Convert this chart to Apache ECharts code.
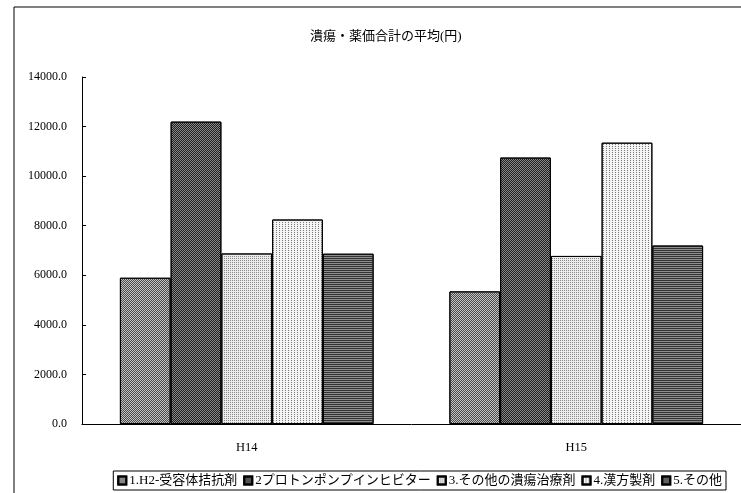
<!DOCTYPE html>
<html>
<head>
<meta charset="utf-8">
<script src="https://cdn.jsdelivr.net/npm/echarts@6/dist/echarts.min.js"></script>
<style>
  html, body { margin: 0; padding: 0; background: #fff; }
  #chart { width: 741px; height: 493px; }
</style>
</head>
<body>
<div id="chart"></div>
<script>
var years = ['H14', 'H15'];
var seriesNames = ['1.H2-受容体拮抗剤', '2プロトンポンプインヒビター', '3.その他の潰瘍治療剤', '4.漢方製剤', '5.その他'];
var h2Blocker = [5900, 5350];
var ppi = [12200, 10750];
var otherUlcer = [6880, 6780];
var kampo = [8250, 11350];
var others = [6870, 7200];
var yTicks = [0, 2000, 4000, 6000, 8000, 10000, 12000, 14000];

var FONT = '"Liberation Serif", "Noto Sans CJK JP", serif';

// grey dither-like fills
var checker = [[1, 1], [0, 1, 1, 0]];
var fills = [
  { color: '#c4c4c4', decal: { symbol: 'rect', symbolSize: 1, dashArrayX: checker, dashArrayY: [1, 0], color: '#4a4a4a' } },
  { color: '#8a8a8a', decal: { symbol: 'rect', symbolSize: 1, dashArrayX: checker, dashArrayY: [1, 0], color: '#1e1e1e' } },
  { color: '#ececec', decal: { symbol: 'rect', symbolSize: 1, dashArrayX: [1, 1], dashArrayY: [1, 1], color: '#8a8a8a' } },
  { color: '#f4f4f4', decal: { symbol: 'rect', symbolSize: 1, dashArrayX: [1, 2], dashArrayY: [1, 1], color: '#7a7a7a' } },
  { color: '#8e8e8e', decal: { symbol: 'rect', symbolSize: 1, dashArrayX: [1, 0], dashArrayY: [1, 1], color: '#333333' } }
];
var values = [h2Blocker, ppi, otherUlcer, kampo, others];

var chart = echarts.init(document.getElementById('chart'), null, { renderer: 'canvas' });

var series = seriesNames.map(function (name, i) {
  return {
    name: name,
    type: 'bar',
    data: values[i],
    barGap: '0%',
    barCategoryGap: '23%',
    itemStyle: {
      color: fills[i].color,
      decal: fills[i].decal,
      borderColor: '#000',
      borderWidth: 1
    }
  };
});

chart.setOption({
  animation: false,
  backgroundColor: '#fff',
  textStyle: { fontFamily: FONT },
  title: {
    text: '潰瘍・薬価合計の平均(円)',
    left: 305,
    top: 25,
    textStyle: { fontFamily: FONT, fontSize: 13, fontWeight: 'normal', color: '#000' }
  },
  legend: {
    bottom: 3,
    right: 15,
    icon: 'rect',
    itemWidth: 8,
    itemHeight: 8,
    itemGap: 6,
    padding: [3, 4],
    borderColor: '#000',
    borderWidth: 1,
    textStyle: { fontFamily: FONT, fontSize: 13, color: '#000', padding: [0, 0, 0, -2] },
    data: seriesNames
  },
  grid: { left: 82, right: -5, top: 77, bottom: 69 },
  xAxis: {
    type: 'category',
    data: years,
    axisLine: { lineStyle: { color: '#000', width: 1 } },
    axisTick: { inside: true, length: 4, lineStyle: { color: '#000' } },
    axisLabel: { color: '#000', fontSize: 12.5, fontFamily: FONT, margin: 17 }
  },
  yAxis: {
    type: 'value',
    min: yTicks[0],
    max: yTicks[yTicks.length - 1],
    interval: yTicks[1] - yTicks[0],
    axisLine: { show: true, lineStyle: { color: '#000', width: 1 } },
    axisTick: { show: true, inside: true, length: 4, lineStyle: { color: '#000' } },
    splitLine: { show: false },
    axisLabel: {
      color: '#000',
      fontSize: 12,
      fontFamily: FONT,
      margin: 15,
      formatter: function (v) { return v.toFixed(1); }
    }
  },
  graphic: [{
    type: 'rect',
    shape: { x: 14, y: 7, width: 740, height: 500 },
    style: { fill: 'none', stroke: '#000', lineWidth: 1 },
    silent: true,
    z: -1
  }],
  series: series
});
</script>
</body>
</html>
